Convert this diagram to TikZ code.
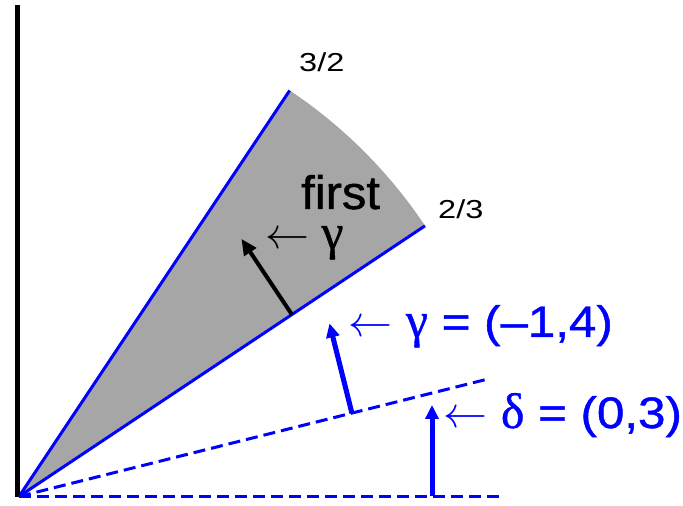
\RequirePackage{fix-cm}
\documentclass[tikz,border=0pt]{standalone}
\usepackage{fontspec}
\setmainfont{Liberation Sans}
\newfontfamily\grk{Liberation Serif}[FakeBold=0.8]
\newfontfamily\wide{Liberation Sans}[FakeStretch=1.12, FakeBold=1]
\newfontfamily\widesmall{Liberation Sans}[FakeStretch=1.25]
\newfontfamily\firstfont{Liberation Sans}[FakeStretch=1.04, FakeBold=1]
\usetikzlibrary{arrows.meta}
\definecolor{wedge}{RGB}{166,166,166}
\definecolor{pblue}{RGB}{0,0,255}
\newcommand{\gsym}[1]{{\fontsize{50}{54}\selectfont\grk #1}}
\begin{document}
\begin{tikzpicture}[x=1pt,y=1pt,
  ray/.style={pblue, line width=3pt},
  dashray/.style={pblue, line width=3pt, dash pattern=on 12pt off 6pt},
  vecblack/.style={black, line width=4pt, -{Triangle[length=16pt,width=14pt]}},
  vecblue/.style={pblue, line width=5pt, -{Triangle[length=14pt,width=13pt]}},
  lbl/.style={inner sep=0pt, anchor=base west},
  small/.style={lbl, font=\widesmall\fontsize{26}{30}\selectfont},
  big/.style={lbl, font=\wide\fontsize{44}{48}\selectfont}]
\useasboundingbox (0,0) rectangle (683,506);
\coordinate (O) at (19,9.5);
\coordinate (A) at ([shift={(56.31:488)}]O);
\coordinate (B) at ([shift={(33.69:488)}]O);
\coordinate (D) at (488,127);
\coordinate (H) at (502,9.5);
\coordinate (Vb) at (17.5,9);
\coordinate (Vt) at (17.5,501);
% wedge
\fill[wedge] (O) -- (A) arc[start angle=56.31, end angle=33.69, radius=488] -- cycle;
\draw[ray] (O) -- (A);
\draw[ray] (O) -- (B);
% axis
\draw[line width=5.5pt] (Vb) -- (Vt);
% dashed rays
\draw[dashray] (O) -- (D);
\draw[dashray] (O) -- (H);
% vectors
\coordinate (P1) at ([shift={(33.69:328)}]O);
\coordinate (T1) at ([shift={(123.69:91)}]P1);
\draw[vecblack] (P1) -- (T1);
\coordinate (P2) at ([shift={(14.036:343.2)}]O);
\coordinate (T2) at ([shift={(104.04:92.6)}]P2);
\draw[vecblue] (P2) -- (T2);
\coordinate (P3) at (432,9.5);
\coordinate (T3) at (432,101);
\draw[vecblue] (P3) -- (T3);
% labels
\node[small] (l32) at (299,434) {3/2};
\node[small] (l23) at (438,287) {2/3};
\node[lbl, font=\firstfont\fontsize{47}{50}\selectfont] (first) at (301,297) {first};
\node[lbl, font=\fontsize{44}{48}\selectfont] (g1) at (265,257) {$\leftarrow$ \gsym{γ}};
\node[big, text=pblue] (g2) at (348,169) {$\leftarrow$ \gsym{γ} = (–1,4)};
\node[big, text=pblue] (d2) at (443,78) {$\leftarrow$ \gsym{δ} = (0,3)};
\end{tikzpicture}
\end{document}
